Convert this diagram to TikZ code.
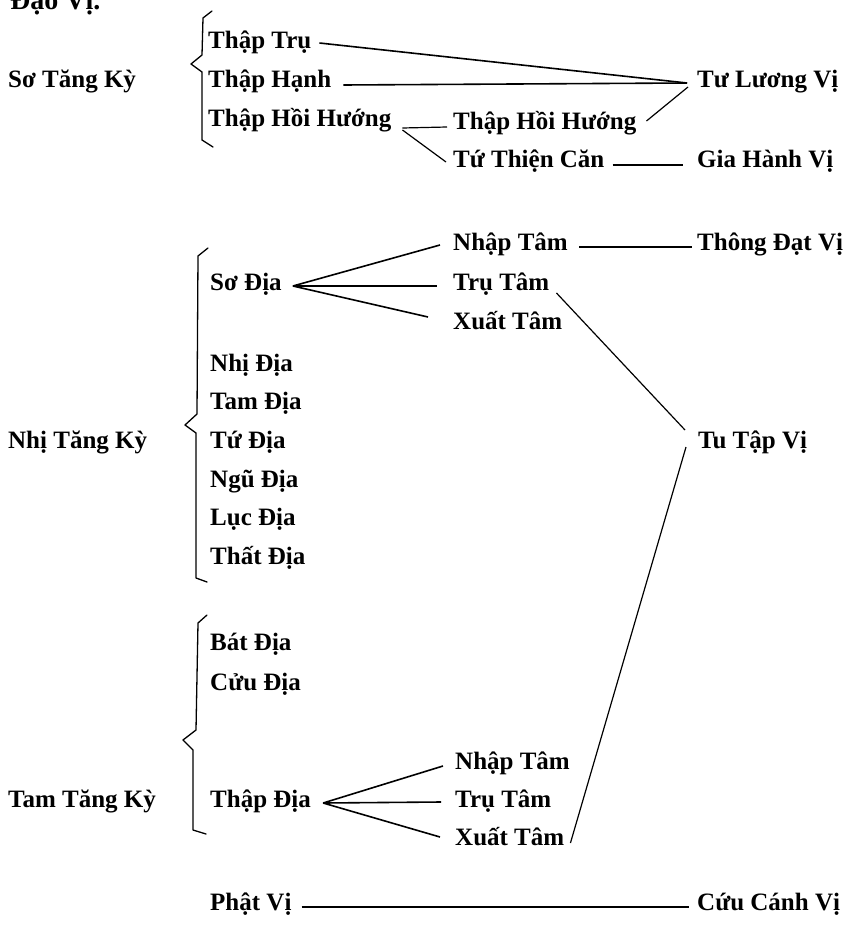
\documentclass[tikz,border=0pt]{standalone}
\usepackage{fontspec}
\setmainfont{Liberation Serif}
\begin{document}
\begin{tikzpicture}[x=1pt,y=-1pt,
  lbl/.style={anchor=base west,inner sep=0pt,font=\fontsize{25}{29}\selectfont\bfseries},
  head/.style={lbl},
  conn/.style={line width=1.2pt},
  thick conn/.style={line width=1.6pt},
  bracepath/.style={line width=1.3pt,line join=round,line cap=round}]
\useasboundingbox (0,0) rectangle (849,931);
\clip (0,0) rectangle (849,931);

\node[lbl,font=\fontsize{28}{30}\selectfont\bfseries] (title) at (10,10) {Đạo Vị.};

% headings
\node[head] (sk1) at (8,88) {Sơ Tăng Kỳ};
\node[head] (sk2) at (8,448) {Nhị Tăng Kỳ};
\node[head] (sk3) at (8,807) {Tam Tăng Kỳ};

% section 1
\node[lbl] (ttru) at (208,49) {Thập Trụ};
\node[lbl] (thanh) at (208,88) {Thập Hạnh};
\node[lbl] (thh1) at (208,127) {Thập Hồi Hướng};
\node[lbl] (thh2) at (453,129) {Thập Hồi Hướng};
\node[lbl] (ttc) at (453,167) {Tứ Thiện Căn};
\node[lbl] (tlv) at (697,88) {Tư Lương Vị};
\node[lbl] (ghv) at (697,167) {Gia Hành Vị};

\draw[thick conn] ([shift={(8,-6)}]ttru.base east) -- ([shift={(-10,-5)}]tlv.base west);
\draw[thick conn] ([shift={(12,-3)}]thanh.base east) -- ([shift={(-10,-5)}]tlv.base west);
\draw[conn] ([shift={(10,-8)}]thh2.base east) -- ([shift={(-9,-1)}]tlv.base west);
\draw[conn] ([shift={(11,1)}]thh1.base east) -- ([shift={(-6,-2)}]thh2.base west);
\draw[conn] ([shift={(11,3)}]thh1.base east) -- ([shift={(-7,-5)}]ttc.base west);
\draw[conn] ([shift={(8,-2)}]ttc.base east) -- ([shift={(-14,-2)}]ghv.base west);

% section 2
\node[lbl] (sd) at (210,290) {Sơ Địa};
\node[lbl] (nt1) at (453,250) {Nhập Tâm};
\node[lbl] (tt1) at (453,290) {Trụ Tâm};
\node[lbl] (xt1) at (453,329) {Xuất Tâm};
\node[lbl] (tdv) at (697,250) {Thông Đạt Vị};
\node[lbl] (d2) at (210,371) {Nhị Địa};
\node[lbl] (d3) at (210,409) {Tam Địa};
\node[lbl] (d4) at (210,448) {Tứ Địa};
\node[lbl] (d5) at (210,487) {Ngũ Địa};
\node[lbl] (d6) at (210,525) {Lục Địa};
\node[lbl] (d7) at (210,564) {Thất Địa};
\node[lbl] (ttv) at (698,448) {Tu Tập Vị};

\draw[thick conn] ([shift={(11,-4)}]sd.base east) -- ([shift={(-13,-5)}]nt1.base west);
\draw[thick conn] ([shift={(11,-4)}]sd.base east) -- ([shift={(-16,-4)}]tt1.base west);
\draw[thick conn] ([shift={(11,-4)}]sd.base east) -- ([shift={(-25,-12)}]xt1.base west);
\draw[conn] ([shift={(11,-3)}]nt1.base east) -- ([shift={(-5,-3)}]tdv.base west);

% section 3
\node[lbl] (d8) at (210,650) {Bát Địa};
\node[lbl] (d9) at (210,690) {Cửu Địa};
\node[lbl] (d10) at (210,807) {Thập Địa};
\node[lbl] (nt3) at (455,769) {Nhập Tâm};
\node[lbl] (tt3) at (455,807) {Trụ Tâm};
\node[lbl] (xt3) at (455,845) {Xuất Tâm};

\draw[thick conn] ([shift={(12,-4)}]d10.base east) -- ([shift={(-12,-3)}]nt3.base west);
\draw[thick conn] ([shift={(12,-4)}]d10.base east) -- ([shift={(-14,-5)}]tt3.base west);
\draw[thick conn] ([shift={(12,-4)}]d10.base east) -- ([shift={(-15,-8)}]xt3.base west);

\draw[conn] ([shift={(7,3)}]tt1.base east) -- ([shift={(-13,-18)}]ttv.base west);
\draw[conn] ([shift={(-12,-1)}]ttv.base west) -- ([shift={(6,-2)}]xt3.base east);

% final row
\node[lbl] (pv) at (210,910) {Phật Vị};
\node[lbl] (ccv) at (697,910) {Cứu Cánh Vị};
\draw[conn] ([shift={(10,-3)}]pv.base east) -- ([shift={(-8,-3)}]ccv.base west);

% braces
\draw[bracepath] (212,11) -- (203,18) -- (202,55) -- (191,64) -- (202,72) -- (202,140) -- (213,147);
\draw[bracepath] (208,248) -- (198,256) -- (197,414) -- (185,425) -- (196,433) -- (196,578) -- (207,582);
\draw[bracepath] (207,615) -- (198,623) -- (196,730) -- (183,740) -- (193,750) -- (193,830) -- (206,834);
\end{tikzpicture}
\end{document}
